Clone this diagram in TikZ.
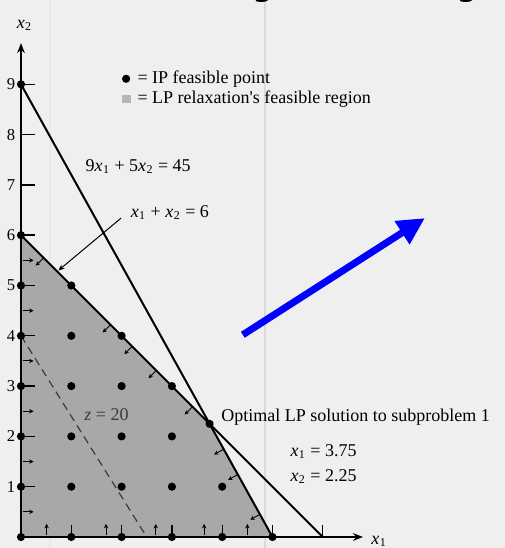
\documentclass[tikz,border=0pt]{standalone}
\usepackage{fontspec}
\setmainfont{Liberation Serif}
\newfontfamily\titlefont{DejaVu Sans}
\usetikzlibrary{arrows.meta}
\newcommand\vx[1]{\textit{x}\kern0.2pt\textsubscript{#1}}
\definecolor{bgcol}{HTML}{EFEFEF}
\definecolor{regioncol}{HTML}{A8A8A8}
\definecolor{legsqcol}{HTML}{B6B6B6}
\definecolor{stripecol}{HTML}{D9D9D9}
\definecolor{zcol}{HTML}{3A3A3A}
\begin{document}
\begin{tikzpicture}[x=25.15pt,y=25.15pt,
  font=\fontsize{9}{10.8}\selectfont,
  axisline/.style={line width=0.9pt,-{Stealth[length=5pt,width=3.8pt]}},
  cline/.style={line width=1pt,line cap=round},
  ticklin/.style={line width=0.7pt},
  smallarr/.style={line width=0.45pt,-{Stealth[length=2.2pt,width=2.2pt]}},
  pointer/.style={line width=0.5pt,-{Stealth[length=3pt,width=2.6pt]}},
  ipdot/.style={circle,fill=black,inner sep=0pt,minimum size=4.1pt},
  lbl/.style={inner sep=0pt},
  numlbl/.style={inner sep=0pt,font=\fontsize{8.3}{9}\selectfont},
  bluearrow/.style={line width=3.5pt,blue,-{Triangle[length=13.6pt,width=13pt]}}
]
% bounding box and background
\fill[bgcol] (-0.4175,-0.2187) rectangle (9.622,10.676);
\useasboundingbox (-0.4175,-0.2187) rectangle (9.622,10.676);
\draw[stripecol,line width=1pt] (4.85,-0.2187) -- (4.85,10.676);
\draw[stripecol!30!bgcol,line width=0.8pt] (0.577,-0.2187) -- (0.577,10.676);

% cut-off title glyphs
\begin{scope}
\clip (-0.4175,-0.2187) rectangle (9.622,10.676);
\node[lbl,anchor=base,font=\titlefont\bfseries\fontsize{14}{14}\selectfont] (tg1) at (4.81,10.75) {g};
\node[lbl,anchor=base,font=\titlefont\bfseries\fontsize{14}{14}\selectfont] (tg2) at (8.87,10.75) {g};
\end{scope}

% key coordinates
\coordinate (O) at (0,0);
\coordinate (Y4) at (0,4);
\coordinate (Y6) at (0,6);
\coordinate (Y9) at (0,9);
\coordinate (X5) at (5,0);
\coordinate (X6) at (6,0);
\coordinate (Z0) at (2.5,0);
\coordinate (P) at (3.75,2.25);
\coordinate (Xend) at (6.8,0);
\coordinate (Yend) at (0,9.82);

% feasible region
\fill[regioncol] (O) -- (Y6) -- (P) -- (X5) -- cycle;

% objective line
\draw[zcol,line width=0.6pt,dash pattern=on 4pt off 2.6pt] (Y4) -- (Z0);
\node[lbl,text=zcol] (zlbl) at (1.70,2.43) {\textit{z} = 20};

% constraint lines
\draw[cline] (Y9) -- (X5);
\draw[cline] (Y6) -- (X6);

% axes
\draw[axisline] (O) -- (Xend);
\draw[axisline] (O) -- (Yend);
\node[lbl] (x1lbl) at (7.12,-0.09) {\vx{1}};
\node[lbl] (x2lbl) at (0.07,10.18) {\vx{2}};

% ticks and numbers
\foreach \k in {1,...,9} {
  \draw[ticklin] (0,\k) -- (0.28,\k);
  \node[numlbl] (ny\k) at (-0.2,\k) {\k};
}
\foreach \k in {1,...,6} {
  \draw[ticklin] (\k,0) -- (\k,0.24);
}

% small arrows along boundaries
\foreach \k in {0.5,1.5,...,5.5} {
  \draw[smallarr] (0.04,\k) -- (0.25,\k);
}
\foreach \t in {0.51,1.69,2.68,3.64,4.5} {
  \draw[smallarr] (\t,0.03) -- (\t,0.26);
}
\foreach \t in {0.45,1.78,2.21,2.69,3.41} {
  \draw[smallarr] (\t,6-\t) -- ({\t-0.155},{6-\t-0.155});
}
\foreach \t in {4.03,4.31,4.75} {
  \draw[smallarr] (\t,{(45-9*\t)/5}) -- ({\t-0.192},{(45-9*\t)/5-0.107});
}

% IP feasible points
\foreach \p in {(0,0),(1,0),(2,0),(3,0),(4,0),(5,0),
                (0,1),(0,2),(0,3),(0,4),(0,5),(0,6),
                (1,1),(2,1),(3,1),(4,1),
                (1,2),(2,2),(3,2),
                (1,3),(2,3),(3,3),
                (1,4),(2,4),(1,5)} {
  \node[ipdot] at \p {};
}
\node[ipdot] (v9) at (Y9) {};
\node[ipdot] (vP) at (P) {};

% line labels
\node[lbl] (l45) at (2.33,7.36) {9\vx{1} + 5\vx{2} = 45};
\node[lbl] (l6) at (2.96,6.46) {\vx{1} + \vx{2} = 6};
\coordinate (ptrstart) at (1.99,6.34);
\coordinate (ptrend) at (0.745,5.3);
\draw[pointer] (ptrstart) -- (ptrend);

% optimal solution labels
\node[lbl,anchor=west] (opt) at (3.976,2.39) {Optimal LP solution to subproblem 1};
\node[lbl,anchor=west] (s1) at (5.35,1.69) {\vx{1} = 3.75};
\node[lbl,anchor=west] (s2) at (5.35,1.21) {\vx{2} = 2.25};

% legend
\node[ipdot] (legdot) at (2.09,9.11) {};
\node[lbl,anchor=west] (legt1) at (2.31,9.11) {= IP feasible point};
\node[fill=legsqcol,inner sep=0pt,minimum size=4.2pt] (legsq) at (2.1,8.71) {};
\node[lbl,anchor=west] (legt2) at (2.31,8.71) {= LP relaxation\textquotesingle s feasible region};

% blue arrow
\coordinate (b1) at (4.41,4.02);
\coordinate (b2) at (8.03,6.34);
\draw[bluearrow] (b1) -- (b2);
\end{tikzpicture}
\end{document}
